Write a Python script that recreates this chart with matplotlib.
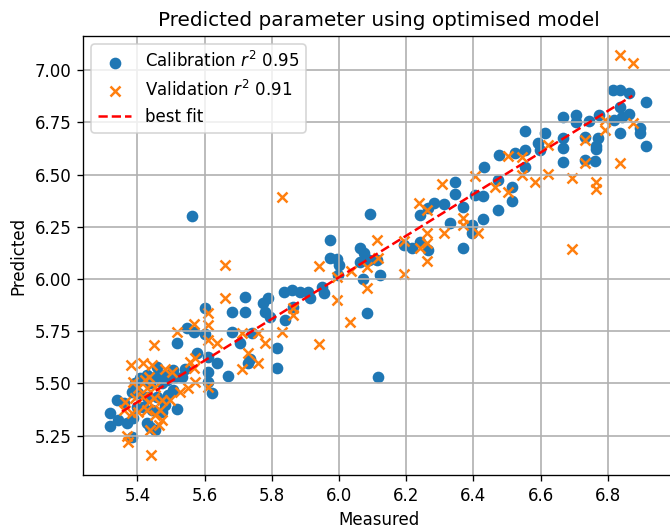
import matplotlib
matplotlib.use("Agg")
import matplotlib.pyplot as plt

# calibration set (measured, predicted)
cal_measured = [
    6.815, 6.837, 6.864, 6.914, 6.837, 6.864, 6.842, 6.817, 6.775, 6.745,
    6.706, 6.706, 6.666, 6.896, 6.896, 6.837, 6.914, 6.772, 6.765, 6.765,
    6.732, 6.666, 6.666, 6.613, 6.593, 6.598, 6.554, 6.554, 6.524, 6.554,
    6.477, 6.432, 6.474, 6.666, 6.732, 6.762, 6.514,
    6.514, 6.405, 6.430, 6.474, 6.430, 6.395, 6.395, 6.345,
    6.345, 6.284, 6.311, 6.266, 6.241, 6.370, 6.331, 6.370, 6.093, 5.973,
    6.192, 6.217, 6.241, 6.264, 6.063, 6.073, 5.973, 5.993, 6.000, 6.063,
    6.088, 6.112, 5.998, 6.070, 6.122, 5.835, 5.860, 5.884, 5.909, 5.914,
    5.949, 5.954, 5.864, 5.840, 6.083,
    5.815, 5.815, 6.115,
    5.562, 5.720, 5.601, 5.681, 5.720, 5.773, 5.790, 5.780, 5.795, 5.547,
    5.567, 5.681, 5.601, 5.740,
    5.517, 5.577, 5.611, 5.636, 5.706, 5.735, 5.730, 5.671, 5.611, 5.611,
    5.621, 5.507, 5.512, 5.458, 5.478, 5.428, 5.408, 5.393, 5.383, 5.403,
    5.339, 5.359, 5.319, 5.319, 5.343, 5.368, 5.388, 5.428, 5.453, 5.438,
    5.383, 5.473, 5.482, 5.492, 5.507, 5.517, 5.473, 5.488, 5.453, 5.438,
    5.532, 5.542, 5.428, 5.418, 5.398, 5.458, 5.443,
]
cal_predicted = [
    6.904, 6.904, 6.891, 6.848, 6.821, 6.789, 6.774, 6.761, 6.785, 6.758,
    6.785, 6.753, 6.774, 6.721, 6.697, 6.700, 6.636, 6.673, 6.636, 6.620,
    6.678, 6.673, 6.625, 6.700, 6.649, 6.617, 6.710, 6.617, 6.601, 6.537,
    6.593, 6.537, 6.474, 6.561, 6.569, 6.566, 6.440,
    6.375, 6.402, 6.397, 6.330, 6.286, 6.258, 6.219, 6.466,
    6.407, 6.365, 6.359, 6.338, 6.306, 6.346, 6.269, 6.147, 6.311, 6.187,
    6.163, 6.147, 6.179, 6.139, 6.147, 6.123, 6.099, 6.094, 6.067, 6.083,
    6.091, 6.091, 6.019, 5.999, 6.019, 5.939, 5.947, 5.939, 5.939, 5.908,
    5.960, 5.932, 5.867, 5.804, 5.839,
    5.668, 5.573, 5.533,
    6.303, 5.912, 5.860, 5.844, 5.844, 5.884, 5.908, 5.844, 5.820, 5.764,
    5.748, 5.748, 5.737, 5.740,
    5.695, 5.644, 5.628, 5.597, 5.692, 5.616, 5.597, 5.536, 5.556, 5.509,
    5.453, 5.565, 5.533, 5.581, 5.541, 5.541, 5.525, 5.501, 5.461, 5.453,
    5.421, 5.405, 5.357, 5.297, 5.325, 5.309, 5.333, 5.309, 5.278, 5.290,
    5.246, 5.365, 5.397, 5.445, 5.469, 5.376, 5.501, 5.517, 5.533, 5.501,
    5.533, 5.568, 5.437, 5.389, 5.389, 5.437, 5.373,
]

# validation set (measured, predicted)
val_measured = [
    6.837, 6.876, 6.792, 6.876, 6.792, 6.732, 6.623, 6.504, 6.544, 6.732,
    6.837, 6.544, 6.623, 6.584, 6.693, 6.765, 6.405,
    6.765, 6.465, 6.504, 6.415, 6.693, 6.306,
    5.830, 6.238, 6.261, 6.370, 6.370, 6.261, 6.311, 6.261, 6.192, 6.112,
    6.241, 6.261, 6.117, 5.939, 6.036, 6.083, 6.192, 5.993, 6.083, 5.993,
    6.033, 5.864, 5.864, 5.830,
    5.939,
    5.661, 5.661, 5.611, 5.567, 5.611, 5.517, 5.711, 5.760,
    5.448, 5.611, 5.380, 5.418, 5.443, 5.482, 5.502, 5.557, 5.572, 5.567,
    5.636, 5.730, 5.780, 5.760, 5.711, 5.388, 5.423, 5.433, 5.403, 5.428,
    5.453, 5.572, 5.552, 5.527, 5.611, 5.363, 5.393, 5.418, 5.433, 5.448,
    5.473, 5.497, 5.359, 5.383, 5.403, 5.428, 5.453, 5.468, 5.473, 5.463,
    5.368, 5.373, 5.438, 5.440,
]
val_predicted = [
    7.072, 7.032, 6.761, 6.745, 6.713, 6.665, 6.641, 6.589, 6.585, 6.554,
    6.554, 6.498, 6.502, 6.466, 6.482, 6.466, 6.495,
    6.430, 6.442, 6.418, 6.222, 6.142, 6.455,
    6.394, 6.365, 6.330, 6.290, 6.258, 6.219, 6.219, 6.171, 6.183, 6.187,
    6.147, 6.088, 6.099, 6.062, 6.040, 6.056, 6.024, 6.008, 5.955, 5.900,
    5.796, 5.860, 5.828, 5.748,
    5.689,
    6.067, 5.908, 5.839, 5.785, 5.780, 5.748, 5.740, 5.740,
    5.684, 5.708, 5.589, 5.597, 5.589, 5.568, 5.556, 5.604, 5.620, 5.573,
    5.692, 5.644, 5.692, 5.600, 5.568, 5.509, 5.517, 5.533, 5.477, 5.477,
    5.485, 5.509, 5.477, 5.461, 5.485, 5.413, 5.429, 5.437, 5.413, 5.429,
    5.421, 5.421, 5.373, 5.357, 5.365, 5.373, 5.349, 5.373, 5.325, 5.301,
    5.249, 5.222, 5.278, 5.158,
]

# end points of the fitted line
fit_x = [5.354, 6.873]
fit_y = [5.365, 6.877]

fig = plt.figure(figsize=(670 / 120, 528 / 120), dpi=120)
ax = fig.add_axes([83 / 670, 53 / 528, 592 / 670, 439 / 528])

ax.scatter(cal_measured, cal_predicted, label='Calibration $r^2$ 0.95')
ax.scatter(val_measured, val_predicted, marker='x', label='Validation $r^2$ 0.91')
ax.plot(fit_x, fit_y, 'r--', label='best fit')

ax.set_xlim(5.238, 7.0)
ax.set_ylim(5.062, 7.163)
ax.set_xticks([5.4, 5.6, 5.8, 6.0, 6.2, 6.4, 6.6, 6.8])
ax.set_title('Predicted parameter using optimised model')
ax.set_xlabel('Measured')
ax.set_ylabel('Predicted')
ax.grid(True, linewidth=1.0)
ax.legend(loc='upper left')

fig.savefig('out.png', dpi=120)
